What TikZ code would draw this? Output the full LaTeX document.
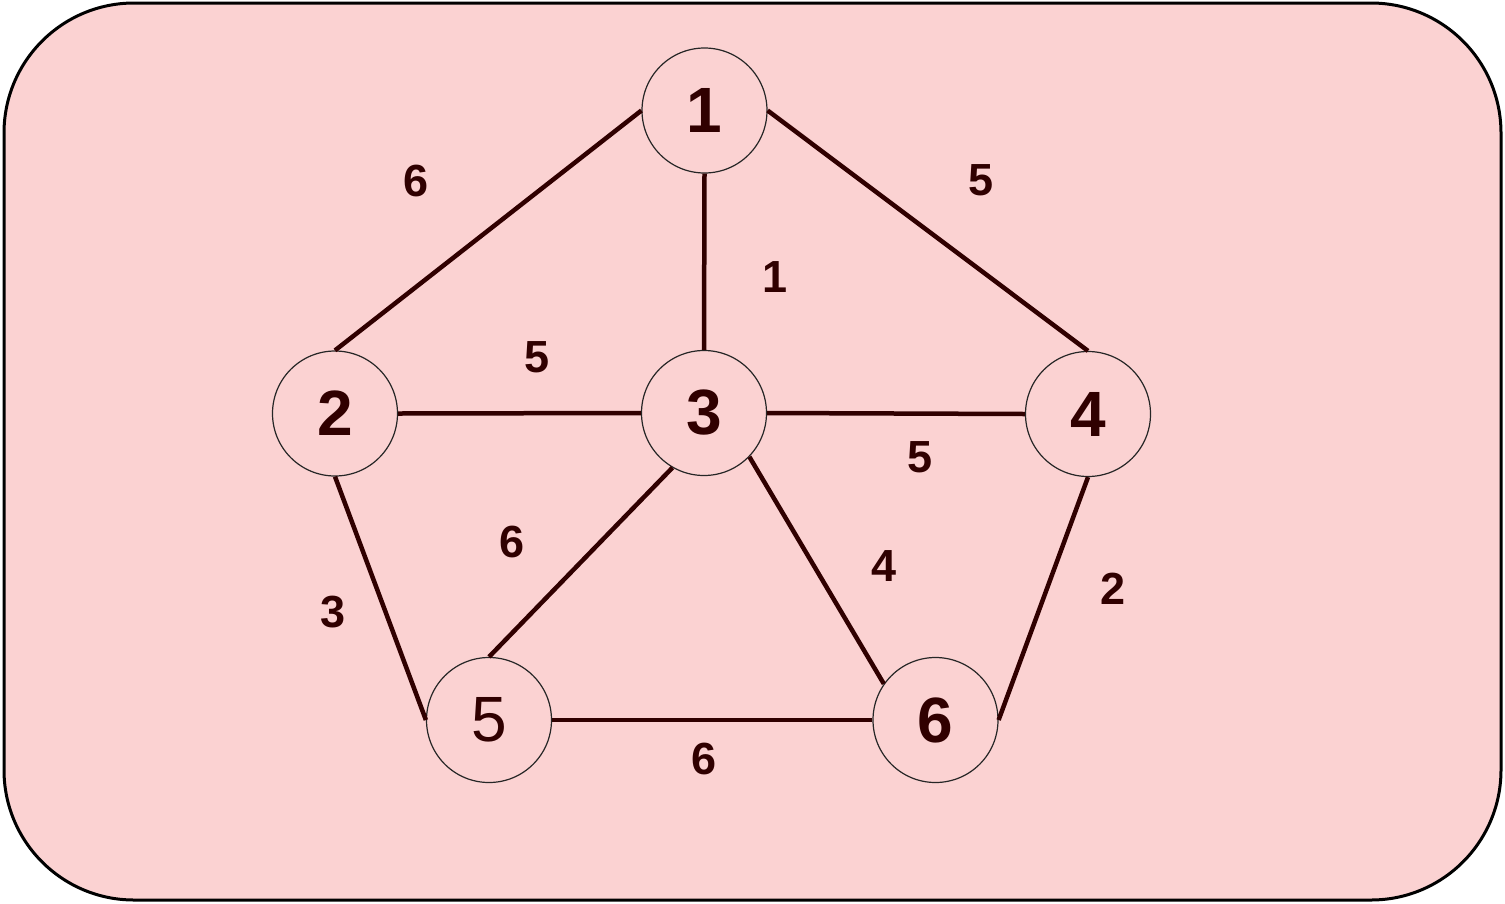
\documentclass[tikz,border=0pt]{standalone}
\usepackage{fontspec}
\setmainfont{Liberation Sans}
\definecolor{bgpink}{RGB}{251,210,210}
\definecolor{ink}{RGB}{48,0,0}
\begin{document}
\begin{tikzpicture}[x=1pt,y=-1pt,
  vert/.style={circle,draw=black!85,line width=1.2pt,minimum size=125pt,inner sep=0pt,
    text=ink,font=\fontsize{64}{64}\selectfont\bfseries},
  edge/.style={draw=ink,line width=4.5pt},
  wlab/.style={text=ink,font=\fontsize{45}{45}\selectfont\bfseries,inner sep=0pt}]
\useasboundingbox (0,0) rectangle (1505,903);
\draw[fill=bgpink,draw=black,line width=3pt,rounded corners=130pt] (4,3) rectangle (1501,900);
\node[vert] (n1) at (704.5,110.5) {1};
\node[vert] (n2) at (335,413.5) {2};
\node[vert] (n3) at (704,413) {3};
\node[vert] (n4) at (1088,414) {4};
\node[vert,font=\fontsize{64}{64}\selectfont] (n5) at (489,720) {5};
\node[vert] (n6) at (935.5,720) {6};
\draw[edge] (n1.west) -- (n2.north);
\draw[edge] (n1.east) -- (n4.north);
\draw[edge] (n1.south) -- (n3.north);
\draw[edge] (n2.east) -- (n3.west);
\draw[edge] (n3.east) -- (n4.west);
\draw[edge] (n2.south) -- (n5.west);
\draw[edge] (n3.240) -- (n5.north);
\draw[edge] (n3.-44) -- (n6.145);
\draw[edge] (n4.south) -- (n6.east);
\draw[edge] (n5.east) -- (n6.west);
\node[wlab] (w12) at (416,181) {6};
\node[wlab] (w14) at (981,180) {5};
\node[wlab] (w13) at (775,277) {1};
\node[wlab] (w23) at (537,357) {5};
\node[wlab] (w34) at (920,457) {5};
\node[wlab] (w35) at (512,542) {6};
\node[wlab] (w36) at (884,566) {4};
\node[wlab] (w25) at (333,612) {3};
\node[wlab] (w46) at (1113,589) {2};
\node[wlab] (w56) at (704,759) {6};
\end{tikzpicture}
\end{document}
